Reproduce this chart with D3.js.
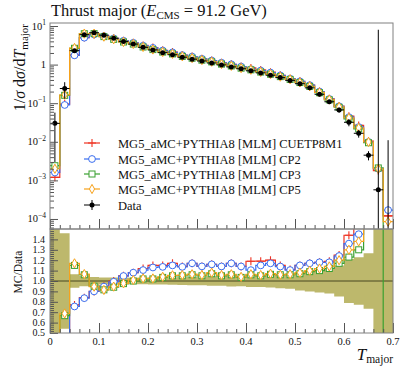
<!DOCTYPE html>
<html><head><meta charset="utf-8">
<script src="https://cdn.jsdelivr.net/npm/d3@7"></script>
<style>
body{margin:0;background:#fff}
svg{display:block}
text{font-family:"Liberation Serif","DejaVu Serif",serif;fill:#111}
</style>
</head><body>
<svg id="c" width="407" height="367"></svg>
<script>
// ---- data (bins of T_major) ----
const binLow  = [0.00,0.02,0.04,0.06,0.08,0.10,0.12,0.14,0.16,0.18,0.20,0.22,0.24,0.26,0.28,0.30,0.32,0.34,0.36,0.38,0.40,0.42,0.44,0.46,0.48,0.50,0.52,0.54,0.56,0.58,0.60,0.62,0.64,0.66,0.68];
const binHigh = [0.02,0.04,0.06,0.08,0.10,0.12,0.14,0.16,0.18,0.20,0.22,0.24,0.26,0.28,0.30,0.32,0.34,0.36,0.38,0.40,0.42,0.44,0.46,0.48,0.50,0.52,0.54,0.56,0.58,0.60,0.62,0.64,0.66,0.68,0.70];
const dataVals = [0.030,0.24,2.30,5.96,6.70,5.80,4.80,3.95,3.40,2.80,2.40,2.04,1.80,1.55,1.38,1.24,1.10,0.98,0.87,0.78,0.69,0.61,0.53,0.46,0.39,0.32,0.25,0.17,0.109,0.067,0.032,0.0166,0.0045,0.00057,0];
const dataErr  = [0.027,0.11,0.15,0.30,0.25,0.20,0.16,0.13,0.11,0.09,0.08,0.07,0.065,0.06,0.055,0.05,0.05,0.045,0.045,0.04,0.04,0.035,0.033,0.032,0.029,0.029,0.025,0.019,0.013,0.010,0.0068,0.0038,0.0012,8,0.011];
const mcCUETP8M1 = [0.0012,0.095,1.771,5.006,6.03,5.51,4.80,4.148,3.672,3.136,2.76,2.346,2.106,1.767,1.615,1.414,1.276,1.117,1.018,0.889,0.821,0.726,0.636,0.529,0.433,0.368,0.2925,0.2006,0.1297,0.08375,0.04608,0.02656,0.01035,0.0018,0.00012];
const mcCP2 = [0.0016,0.09,1.737,4.977,6.03,5.487,4.766,4.140,3.672,3.094,2.712,2.317,2.07,1.761,1.615,1.414,1.276,1.117,1.018,0.889,0.762,0.7015,0.620,0.524,0.431,0.368,0.2925,0.2006,0.1286,0.0831,0.0435,0.02407,0.0099,0.0020,0.00017];
const mcCP3 = [0.0024,0.16,2.645,6.318,6.365,5.307,4.512,3.851,3.40,2.856,2.448,2.111,1.89,1.6275,1.463,1.302,1.177,1.029,0.922,0.807,0.731,0.6405,0.564,0.4876,0.4134,0.3424,0.2725,0.187,0.1221,0.0784,0.03936,0.02158,0.00945,0.0021,0];
const mcCP5 = [0.0020,0.165,2.691,6.359,6.338,5.301,4.541,3.863,3.434,2.87,2.46,2.122,1.899,1.638,1.47,1.311,1.188,1.036,0.9266,0.8112,0.7349,0.6448,0.5671,0.4876,0.4154,0.3456,0.275,0.1904,0.1243,0.0804,0.0416,0.02291,0.0099,0.0020,0.000085];
const seriesNames = ["MG5_aMC+PYTHIA8 [MLM] CUETP8M1","MG5_aMC+PYTHIA8 [MLM] CP2","MG5_aMC+PYTHIA8 [MLM] CP3","MG5_aMC+PYTHIA8 [MLM] CP5"];
const seriesColors = ["#ee3322","#3a6ef0","#3aa030","#f7a21b"];
const seriesMarkers = ["cross","circle","square","diamond"];
const xTickVals = [0,0.1,0.2,0.3,0.4,0.5,0.6,0.7];
const xTickLabels = ["0","0.1","0.2","0.3","0.4","0.5","0.6","0.7"];
const yMainTicks = [1e-4,1e-3,1e-2,1e-1,1,10];
const yMainExp = ["−4","−3","−2","−1","","1"];
const ratioTickVals = [0.5,0.6,0.7,0.8,0.9,1.0,1.1,1.2,1.3,1.4];
const ratioTickLabels = ["0.5","0.6","0.7","0.8","0.9","1.0","1.1","1.2","1.3","1.4"];

// ---- layout ----
const svg = d3.select("#c");
const xL=50, xR=393, mT=23, mB=229, rB=333;
const x = d3.scaleLinear().domain([0,0.7]).range([xL,xR]);
const yM = d3.scaleLog().domain([5.5e-5,11.96]).range([mB,mT]);
const yR = d3.scaleLinear().domain([0.5,1.5]).range([rB,mB]);
const lim = v => Math.max(-2000, Math.min(2000, v));
const yMs = v => v>0 ? lim(yM(v)) : mB+200;
const yRs = v => lim(yR(v));

const defs = svg.append("defs");
defs.append("clipPath").attr("id","cm").append("rect").attr("x",xL).attr("y",mT).attr("width",xR-xL).attr("height",mB-mT);
defs.append("clipPath").attr("id","cr").append("rect").attr("x",xL).attr("y",mB).attr("width",xR-xL).attr("height",rB-mB);

function stepPath(vals, yf){
  let p="";
  vals.forEach((v,i)=>{
    const yy=yf(v);
    p += (i===0 ? `M${x(binLow[i])},${yy}` : `V${yy}`) + `H${x(binHigh[i])}`;
  });
  return p;
}
function marker(g, type, cx, cy, color){
  if(type==="circle") g.append("circle").attr("cx",cx).attr("cy",cy).attr("r",3.4).attr("fill","#fff").attr("stroke",color).attr("stroke-width",1);
  else if(type==="square") g.append("rect").attr("x",cx-3).attr("y",cy-3).attr("width",6).attr("height",6).attr("fill","#fff").attr("stroke",color).attr("stroke-width",1);
  else if(type==="diamond") g.append("path").attr("d",`M${cx},${cy-4.6}L${cx+2.6},${cy}L${cx},${cy+4.6}L${cx-2.6},${cy}Z`).attr("fill","#fff").attr("stroke",color).attr("stroke-width",1);
  else g.append("path").attr("d",`M${cx-4},${cy}H${cx+4}M${cx},${cy-4}V${cy+4}`).attr("stroke",color).attr("stroke-width",1.1).attr("fill","none");
}

const mcAll = [mcCUETP8M1, mcCP2, mcCP3, mcCP5];

// ---- main panel ----
const gm = svg.append("g").attr("clip-path","url(#cm)");
mcAll.forEach((vals,k)=>{
  gm.append("path").attr("d",stepPath(vals,yMs)).attr("fill","none").attr("stroke",seriesColors[k]).attr("stroke-width",1.2);
});
mcAll.forEach((vals,k)=>{
  vals.forEach((v,i)=>{ if(v>0) marker(gm, seriesMarkers[k], x((binLow[i]+binHigh[i])/2), yM(v), seriesColors[k]); });
});
// data
dataVals.forEach((v,i)=>{
  const cx = x((binLow[i]+binHigh[i])/2);
  const hi = v+dataErr[i], lo = v-dataErr[i];
  gm.append("line").attr("x1",cx).attr("x2",cx).attr("y1",yMs(lo)).attr("y2",yMs(hi)).attr("stroke","#000").attr("stroke-width",1);
  if(v>0){
    gm.append("line").attr("x1",x(binLow[i])).attr("x2",x(binHigh[i])).attr("y1",yM(v)).attr("y2",yM(v)).attr("stroke","#000").attr("stroke-width",1);
    gm.append("circle").attr("cx",cx).attr("cy",yM(v)).attr("r",2.5).attr("fill","#000");
  }
});

// ---- ratio panel ----
const gr = svg.append("g").attr("clip-path","url(#cr)");
(function(){
  let top="", bot=[];
  dataVals.forEach((v,i)=>{
    const rel = v>0 ? dataErr[i]/v : 10;
    const yt = yRs(1+rel), yb = yRs(1-rel);
    top += (i===0?`M${x(binLow[i])},${yt}`:`V${yt}`) + `H${x(binHigh[i])}`;
    bot.push([x(binLow[i]),x(binHigh[i]),yb]);
  });
  let p = top;
  for(let i=bot.length-1;i>=0;i--){ p += `V${bot[i][2]}H${bot[i][0]}`; }
  p += "Z";
  gr.append("path").attr("d",p).attr("fill","#bdb86c").attr("stroke","none");
})();
gr.append("line").attr("x1",xL).attr("x2",xR).attr("y1",yR(1)).attr("y2",yR(1)).attr("stroke","#3a3a1a").attr("stroke-width",0.9);
const ratios = mcAll.map(vals => vals.map((m,i)=> dataVals[i]>0 ? m/dataVals[i] : (m>0 ? 100 : 0)));
ratios.forEach((rv,k)=>{
  gr.append("path").attr("d",stepPath(rv,yRs)).attr("fill","none").attr("stroke",seriesColors[k]).attr("stroke-width",1.2);
});
ratios.forEach((rv,k)=>{
  rv.forEach((r,i)=>{ if(r>0.4 && r<1.6) marker(gr, seriesMarkers[k], x((binLow[i]+binHigh[i])/2), yR(r), seriesColors[k]); });
});

// ---- axes / ticks ----
const tickCol = "#555";
function xTicks(yBase){
  const minor = d3.range(0,0.7001,0.02).filter(t=>Math.abs(t*10-Math.round(t*10))>1e-6);
  const g1 = svg.append("g").attr("transform",`translate(0,${yBase})`).call(d3.axisBottom(x).tickValues(xTickVals).tickSize(-10).tickFormat(""));
  const g2 = svg.append("g").attr("transform",`translate(0,${yBase})`).call(d3.axisBottom(x).tickValues(minor).tickSize(-4).tickFormat(""));
  [g1,g2].forEach(g=>{ g.select(".domain").remove(); g.selectAll("line").attr("stroke",tickCol); });
}
xTicks(mB); xTicks(rB);
(function(){
  const minor=[];
  [1e-5,1e-4,1e-3,1e-2,1e-1,1,10].forEach(d=>{ for(let m=2;m<=9;m++){ const v=d*m; if(v>5.5e-5 && v<11.96) minor.push(v);} });
  const g1 = svg.append("g").attr("transform",`translate(${xL},0)`).call(d3.axisLeft(yM).tickValues(yMainTicks).tickSize(-8).tickFormat(""));
  const g2 = svg.append("g").attr("transform",`translate(${xL},0)`).call(d3.axisLeft(yM).tickValues(minor).tickSize(-4).tickFormat(""));
  [g1,g2].forEach(g=>{ g.select(".domain").remove(); g.selectAll("line").attr("stroke",tickCol); });
  yMainTicks.forEach((v,i)=>{
    const t = svg.append("text").attr("x",46).attr("y",yM(v)+3.5).attr("text-anchor","end").attr("font-size",10.5);
    if(yMainExp[i]===""){ t.text("1"); }
    else { t.append("tspan").text("10"); t.append("tspan").attr("font-size",7.5).attr("dy",-4.5).text(yMainExp[i]); }
  });
})();
(function(){
  const minor = d3.range(0.5,1.5001,0.02);
  const g1 = svg.append("g").attr("transform",`translate(${xL},0)`).call(d3.axisLeft(yR).tickValues(ratioTickVals).tickSize(-8).tickFormat(""));
  const g2 = svg.append("g").attr("transform",`translate(${xL},0)`).call(d3.axisLeft(yR).tickValues(minor).tickSize(-4).tickFormat(""));
  [g1,g2].forEach(g=>{ g.select(".domain").remove(); g.selectAll("line").attr("stroke",tickCol); });
  ratioTickVals.forEach((v,i)=>{
    svg.append("text").attr("x",45).attr("y",yR(v)+3.3).attr("text-anchor","end").attr("font-size",10).text(ratioTickLabels[i]);
  });
})();
xTickVals.forEach((v,i)=>{
  svg.append("text").attr("x",x(v)).attr("y",345).attr("text-anchor","middle").attr("font-size",10.5).text(xTickLabels[i]);
});

[[mT,mB],[mB,rB]].forEach(([a,b])=>{
  svg.append("rect").attr("x",xL).attr("y",a).attr("width",xR-xL).attr("height",b-a).attr("fill","none").attr("stroke","#808080").attr("stroke-width",1);
});

// ---- legend ----
const legRows = [143,159,174,189,205];
seriesNames.forEach((nm,k)=>{
  const yy = legRows[k];
  svg.append("line").attr("x1",84).attr("x2",100).attr("y1",yy).attr("y2",yy).attr("stroke",seriesColors[k]).attr("stroke-width",1.2);
  marker(svg, seriesMarkers[k], 92, yy, seriesColors[k]);
  svg.append("text").attr("x",118).attr("y",yy+4.5).attr("font-size",12.5).text(nm);
});
(function(){
  const yy = legRows[4];
  svg.append("line").attr("x1",84).attr("x2",100).attr("y1",yy).attr("y2",yy).attr("stroke","#000");
  svg.append("line").attr("x1",92).attr("x2",92).attr("y1",yy-5).attr("y2",yy+5).attr("stroke","#000");
  svg.append("circle").attr("cx",92).attr("cy",yy).attr("r",2.5).attr("fill","#000");
  svg.append("text").attr("x",118).attr("y",yy+4.5).attr("font-size",12.5).text("Data");
})();

// ---- titles / labels ----
(function(){
  const t = svg.append("text").attr("x",51).attr("y",16).attr("font-size",16.5);
  t.append("tspan").text("Thrust major (");
  t.append("tspan").attr("font-style","italic").text("E");
  t.append("tspan").attr("font-size",11).attr("dy",3).text("CMS");
  t.append("tspan").attr("dy",-3).text(" = 91.2 GeV)");
})();
(function(){
  const t = svg.append("text").attr("transform","translate(25,24) rotate(-90)").attr("text-anchor","end").attr("font-size",16);
  t.append("tspan").text("1/");
  t.append("tspan").attr("font-style","italic").text("σ");
  t.append("tspan").text(" d");
  t.append("tspan").attr("font-style","italic").text("σ");
  t.append("tspan").text("/d");
  t.append("tspan").attr("font-style","italic").text("T");
  t.append("tspan").attr("font-size",11).attr("dy",3).text("major");
})();
svg.append("text").attr("transform","translate(22,272) rotate(-90)").attr("text-anchor","middle").attr("font-size",11.5).text("MC/Data");
(function(){
  const t = svg.append("text").attr("x",393).attr("y",360).attr("text-anchor","end").attr("font-size",17);
  t.append("tspan").attr("font-style","italic").text("T");
  t.append("tspan").attr("font-size",11.5).attr("dy",3).text("major");
})();
</script>
</body></html>
